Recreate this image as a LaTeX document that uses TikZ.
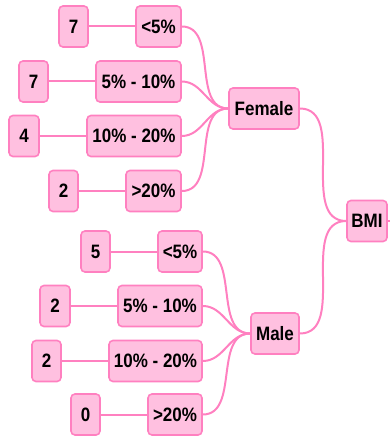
\documentclass[tikz,border=0pt]{standalone}
\usepackage{fontspec}
\usepackage{graphicx}
\setmainfont{Liberation Sans}
\definecolor{boxfill}{RGB}{255,192,224}
\definecolor{boxline}{RGB}{255,128,192}
% labels are set slightly taller than wide
\newcommand{\lbl}[1]{\scalebox{1}[1.14]{#1}}
\begin{document}
\begin{tikzpicture}[x=1pt,y=-1pt,
  tag/.style={draw=boxline,fill=boxfill,line width=1.6pt,rounded corners=4pt,
    minimum height=41pt,inner xsep=4pt,font=\fontsize{17}{20}\selectfont\bfseries},
  link/.style={draw=boxline,line width=2pt},
  curve/.style={link,out=0,in=180}]
\useasboundingbox (0,0) rectangle (390,438);
% root and gender nodes
\node[tag,minimum width=40pt] (bmi) at (367,221) {\lbl{BMI}};
\node[tag,minimum width=70pt] (fem) at (264,108.5) {\lbl{Female}};
\node[tag,minimum width=48pt] (mal) at (275,333.5) {\lbl{Male}};
% female categories
\node[tag,minimum width=45pt] (f1) at (158.5,26.5) {\lbl{<5\%}};
\node[tag,minimum width=85pt] (f2) at (138.5,81.5) {\lbl{5\% - 10\%}};
\node[tag,minimum width=94pt] (f3) at (134,136) {\lbl{10\% - 20\%}};
\node[tag,minimum width=55pt] (f4) at (153.5,191) {\lbl{>20\%}};
\node[tag,minimum width=29pt] (fn1) at (73.5,26.5) {\lbl{7}};
\node[tag,minimum width=29pt] (fn2) at (33.5,81.5) {\lbl{7}};
\node[tag,minimum width=30pt] (fn3) at (24,136) {\lbl{4}};
\node[tag,minimum width=29pt] (fn4) at (63.5,191) {\lbl{2}};
% male categories
\node[tag,minimum width=44pt] (m1) at (180,251.5) {\lbl{<5\%}};
\node[tag,minimum width=84pt] (m2) at (160,306) {\lbl{5\% - 10\%}};
\node[tag,minimum width=93pt] (m3) at (155.5,361) {\lbl{10\% - 20\%}};
\node[tag,minimum width=54pt] (m4) at (175,414.5) {\lbl{>20\%}};
\node[tag,minimum width=29pt] (mn1) at (95.5,251.5) {\lbl{5}};
\node[tag,minimum width=30pt] (mn2) at (55,306) {\lbl{2}};
\node[tag,minimum width=29pt] (mn3) at (46.5,361) {\lbl{2}};
\node[tag,minimum width=29pt] (mn4) at (85.5,414.5) {\lbl{0}};
\coordinate (stub) at (390,221);
% connectors
\draw[link] (bmi.east) -- (stub);
\draw[curve] (fem.east) to (bmi.west);
\draw[curve] (mal.east) to (bmi.west);
\foreach \i in {1,2,3,4}{
  \draw[curve] (f\i.east) to (fem.west);
  \draw[curve] (m\i.east) to (mal.west);
  \draw[link] (fn\i.east) -- (f\i.west);
  \draw[link] (mn\i.east) -- (m\i.west);
}
\end{tikzpicture}
\end{document}
